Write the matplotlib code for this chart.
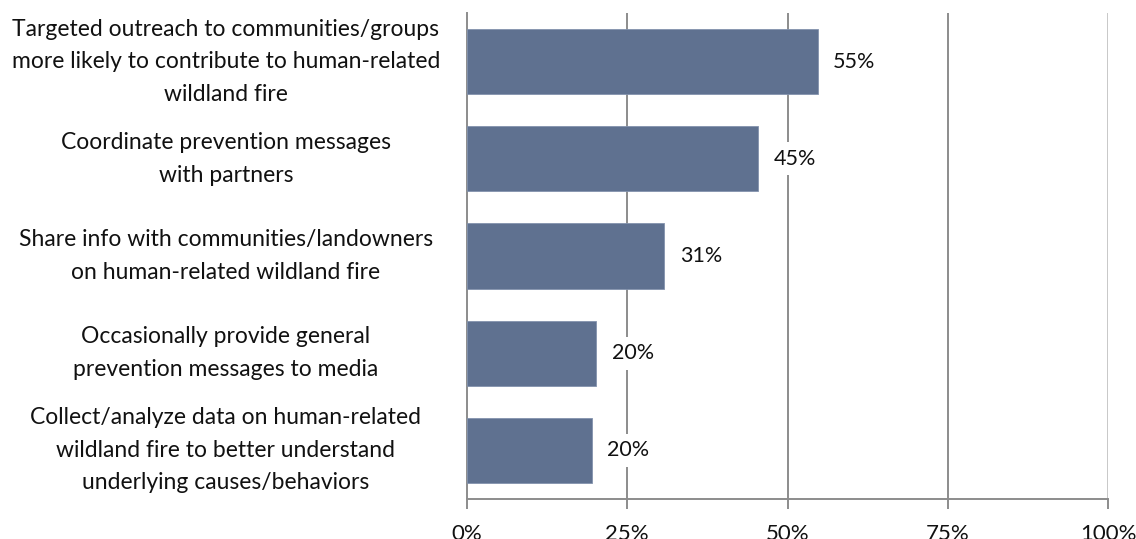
import matplotlib
matplotlib.use("Agg")
import matplotlib.pyplot as plt
from matplotlib.ticker import FixedLocator

plt.rcParams['font.family'] = ['Lato', 'DejaVu Sans']

categories = [
    "Targeted outreach to communities/groups\nmore likely to contribute to human-related\nwildland fire",
    "Coordinate prevention messages\nwith partners",
    "Share info with communities/landowners\non human-related wildland fire",
    "Occasionally provide general\nprevention messages to media",
    "Collect/analyze data on human-related\nwildland fire to better understand\nunderlying causes/behaviors",
]
values = [54.7, 45.4, 30.8, 20.2, 19.5]
xticks = [0, 25, 50, 75, 100]
xtick_labels = ["0%", "25%", "50%", "75%", "100%"]

bar_color = "#5f7190"
grid_color = "#8c8c8c"
text_color = "#111111"

fig = plt.figure(figsize=(11.36, 5.39), dpi=100)
ax = fig.add_axes([467 / 1136, 40 / 539, 641 / 1136, 486 / 539])

y = list(range(len(categories)))
ax.barh(y, values, height=0.67, color=bar_color, edgecolor="#8393ad",
        linewidth=0.6, zorder=3)
ax.set_ylim(len(categories) - 0.5, -0.5)
ax.set_xlim(0, 100)

# vertical gridlines
for t in xticks[1:]:
    ax.axvline(t, color=grid_color if t < 100 else "#c8c8c8", lw=1.4, zorder=1)

# value labels on a white box so gridlines pass behind them
for yi, v in zip(y, values):
    ax.text(v + 2.4, yi, f"{v:.0f}%", va="center", ha="left", fontsize=15.5,
            color=text_color, zorder=4,
            bbox=dict(boxstyle="square,pad=0.3", fc="white", ec="none"))

# category labels, centred as a block to the left of the axis
ax.set_yticks(y)
ax.set_yticklabels([])
ax.tick_params(axis="y", length=0)
ytrans = ax.get_yaxis_transform()
for yi, cat in zip(y, categories):
    ax.text(-0.376, yi, cat, transform=ytrans, ha="center", va="center",
            multialignment="center", fontsize=16.5, linespacing=1.68,
            color=text_color, clip_on=False)

ax.xaxis.set_major_locator(FixedLocator(xticks))
ax.set_xticklabels(xtick_labels, fontsize=16, color=text_color)
ax.tick_params(axis="x", length=7, width=1.4, color=grid_color, pad=11)

for s in ["top", "right"]:
    ax.spines[s].set_visible(False)
for s in ["left", "bottom"]:
    ax.spines[s].set_color(grid_color)
    ax.spines[s].set_linewidth(1.4)

fig.savefig("out.png", dpi=100, facecolor="white")
